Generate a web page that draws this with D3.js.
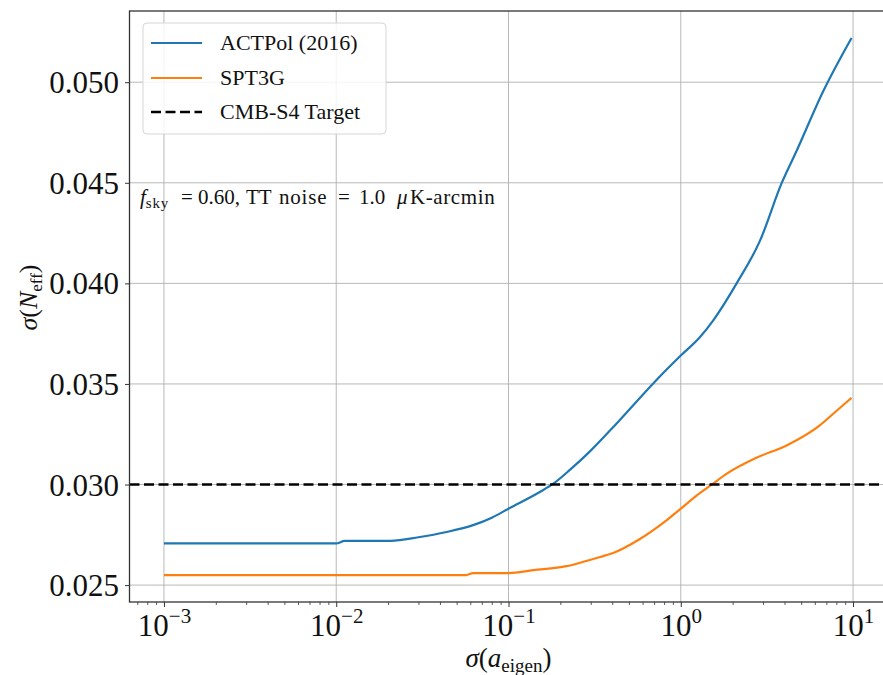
<!DOCTYPE html>
<html>
<head>
<meta charset="utf-8">
<script src="https://cdn.jsdelivr.net/npm/d3@7"></script>
<style>
  body { margin: 0; background: #fff; }
  svg text { font-family: "Liberation Serif", "DejaVu Serif", serif; fill: #111; }
</style>
</head>
<body>
<script>
// sigma(a_eigen) sample points and sigma(N_eff)
const actX = [0.001, 0.002, 0.005, 0.0100, 0.0112, 0.0207, 0.03, 0.0437, 0.0623, 0.08, 0.1, 0.152, 0.182, 0.228, 0.294, 0.431, 0.723, 1.0, 1.29, 1.54, 2.11, 2.88, 3.85, 4.70, 6.71, 9.8];
const actY = [0.02707, 0.02707, 0.02707, 0.02707, 0.0272, 0.0272, 0.02738, 0.02764, 0.02798, 0.02835, 0.0288, 0.02963, 0.03004, 0.03074, 0.03161, 0.0331, 0.0352, 0.03641, 0.03732, 0.03815, 0.0400, 0.04211, 0.04498, 0.04658, 0.04955, 0.0522];

const sptX = [0.001, 0.005, 0.01, 0.03, 0.0568, 0.0623, 0.1, 0.139, 0.217, 0.272, 0.34, 0.405, 0.573, 0.826, 1.0, 1.24, 1.51, 1.85, 2.75, 4.11, 6.41, 7.67, 9.8];
const sptY = [0.0255, 0.0255, 0.0255, 0.0255, 0.0255, 0.0256, 0.0256, 0.02574, 0.02594, 0.02616, 0.0264, 0.0266, 0.02727, 0.02822, 0.0288, 0.02946, 0.02999, 0.03054, 0.03133, 0.03194, 0.03294, 0.03352, 0.03431];

const targetValue = 0.030;

const xTickExp = [-3, -2, -1, 0, 1];
const yTicks = [0.025, 0.030, 0.035, 0.040, 0.045, 0.050];

const seriesNames = ["ACTPol (2016)", "SPT3G", "CMB-S4 Target"];
const seriesColors = ["#1f77b4", "#ff7f0e", "#000"];

const W = 883, H = 675;
const mLeft = 129.5, mRight = 887.5, mTop = 11, mBottom = 602;

const svg = d3.select("body").append("svg")
  .attr("width", W)
  .attr("height", H);

const x = d3.scaleLog()
  .domain([Math.pow(10, -3.2), Math.pow(10, 1.2)])
  .range([mLeft, mRight]);

const y = d3.scaleLinear()
  .domain([0.02416, 0.05354])
  .range([mBottom, mTop]);

const xMajor = xTickExp.map(e => Math.pow(10, e));
const xMinor = [];
for (let e = -4; e <= 1; e++) {
  for (let k = 2; k <= 9; k++) {
    const v = k * Math.pow(10, e);
    if (v > x.domain()[0] && v < x.domain()[1]) xMinor.push(v);
  }
}

// grid
const grid = svg.append("g").attr("class", "grid");
grid.selectAll("line.gx").data(xMajor).join("line")
  .attr("x1", d => x(d)).attr("x2", d => x(d))
  .attr("y1", mTop).attr("y2", mBottom)
  .attr("stroke", "#b0b0b0").attr("stroke-width", 0.9);
grid.selectAll("line.gy").data(yTicks).join("line")
  .attr("x1", mLeft).attr("x2", mRight)
  .attr("y1", d => y(d)).attr("y2", d => y(d))
  .attr("stroke", "#b0b0b0").attr("stroke-width", 0.9);

// lines
const line = d3.line()
  .x(d => x(d[0]))
  .y(d => y(d[1]))
  .curve(d3.curveMonotoneX);

svg.append("path")
  .datum(actX.map((v, i) => [v, actY[i]]))
  .attr("d", line)
  .attr("fill", "none")
  .attr("stroke", seriesColors[0])
  .attr("stroke-width", 2.2);

svg.append("path")
  .datum(sptX.map((v, i) => [v, sptY[i]]))
  .attr("d", line)
  .attr("fill", "none")
  .attr("stroke", seriesColors[1])
  .attr("stroke-width", 2.2);

svg.append("line")
  .attr("x1", mLeft).attr("x2", mRight)
  .attr("y1", y(targetValue)).attr("y2", y(targetValue))
  .attr("stroke", "#000")
  .attr("stroke-width", 2.6)
  .attr("stroke-dasharray", "10,4.5");

// spines
svg.append("rect")
  .attr("x", mLeft).attr("y", mTop)
  .attr("width", mRight - mLeft).attr("height", mBottom - mTop)
  .attr("fill", "none")
  .attr("stroke", "#333")
  .attr("stroke-width", 1.3);

// x axis
const gx = svg.append("g").attr("transform", `translate(0,${mBottom})`);
gx.call(d3.axisBottom(x).tickValues(xMajor).tickSize(5).tickPadding(9).tickFormat(""));
gx.select(".domain").remove();
gx.selectAll(".tick line").attr("stroke", "#333").attr("stroke-width", 1);

gx.selectAll(".tick").append("text")
  .attr("text-anchor", "middle")
  .attr("y", 34)
  .style("font-size", "31px")
  .each(function(d) {
    const t = d3.select(this);
    const e = Math.round(Math.log10(d));
    t.append("tspan").text("10");
    t.append("tspan")
      .attr("dy", -13)
      .style("font-size", "21px")
      .text(e < 0 ? "\u2212" + (-e) : String(e));
  });

const gxm = svg.append("g").attr("transform", `translate(0,${mBottom})`);
gxm.call(d3.axisBottom(x).tickValues(xMinor).tickSize(3).tickFormat(""));
gxm.select(".domain").remove();
gxm.selectAll(".tick line").attr("stroke", "#333").attr("stroke-width", 0.8);

// y axis
const gy = svg.append("g").attr("transform", `translate(${mLeft},0)`);
gy.call(d3.axisLeft(y).tickValues(yTicks).tickSize(4.5).tickPadding(6).tickFormat(d3.format(".3f")));
gy.select(".domain").remove();
gy.selectAll(".tick line").attr("stroke", "#333").attr("stroke-width", 1);
gy.selectAll(".tick text")
  .style("font-size", "31px")
  .attr("dy", "0.34em");

// axis labels
const xl = svg.append("text")
  .attr("x", (mLeft + mRight) / 2)
  .attr("y", 667)
  .attr("text-anchor", "middle")
  .style("font-size", "27px");
xl.append("tspan").style("font-style", "italic").text("\u03c3");
xl.append("tspan").text("(");
xl.append("tspan").style("font-style", "italic").text("a");
xl.append("tspan").attr("dy", 5).style("font-size", "19px").text("eigen");
xl.append("tspan").attr("dy", -5).text(")");

const yl = svg.append("text")
  .attr("transform", `translate(37,${(mTop + mBottom) / 2 - 9}) rotate(-90)`)
  .attr("text-anchor", "middle")
  .style("font-size", "26px");
yl.append("tspan").style("font-style", "italic").text("\u03c3");
yl.append("tspan").text("(");
yl.append("tspan").style("font-style", "italic").text("N");
yl.append("tspan").attr("dy", 5).style("font-size", "17px").text("eff");
yl.append("tspan").attr("dy", -5).text(")");

// annotation (pieces placed like the math-mode spacing of the original)
const ann = svg.append("text")
  .attr("y", 204)
  .style("font-size", "21px");
ann.append("tspan").attr("x", 140).style("font-style", "italic").text("f");
ann.append("tspan").attr("dy", 4).style("font-size", "15px").style("letter-spacing", "0.8px").text("sky");
ann.append("tspan").attr("x", 181).attr("dy", -4).text("=");
ann.append("tspan").attr("x", 198).text("0.60,");
ann.append("tspan").attr("x", 246).text("TT");
ann.append("tspan").attr("x", 279).style("letter-spacing", "0.8px").text("noise");
ann.append("tspan").attr("x", 338).text("=");
ann.append("tspan").attr("x", 359).text("1.0");
ann.append("tspan").attr("x", 397).style("font-style", "italic").text("\u03bc");
ann.append("tspan").attr("x", 410).style("letter-spacing", "0.6px").text("K-arcmin");

// legend
const lg = svg.append("g");
lg.append("rect")
  .attr("x", 143).attr("y", 23)
  .attr("width", 243).attr("height", 111)
  .attr("rx", 4)
  .attr("fill", "#fff").attr("fill-opacity", 0.85)
  .attr("stroke", "#d6d6d6").attr("stroke-width", 1);

const rowY = [43, 78, 112];
seriesNames.forEach((name, i) => {
  lg.append("line")
    .attr("x1", 151).attr("x2", 202)
    .attr("y1", rowY[i]).attr("y2", rowY[i])
    .attr("stroke", seriesColors[i])
    .attr("stroke-width", i === 2 ? 2.6 : 2.2)
    .attr("stroke-dasharray", i === 2 ? "10,4.5" : null);
  lg.append("text")
    .attr("x", 220).attr("y", rowY[i])
    .attr("dy", "0.33em")
    .style("font-size", "22px")
    .text(name);
});
</script>
</body>
</html>
